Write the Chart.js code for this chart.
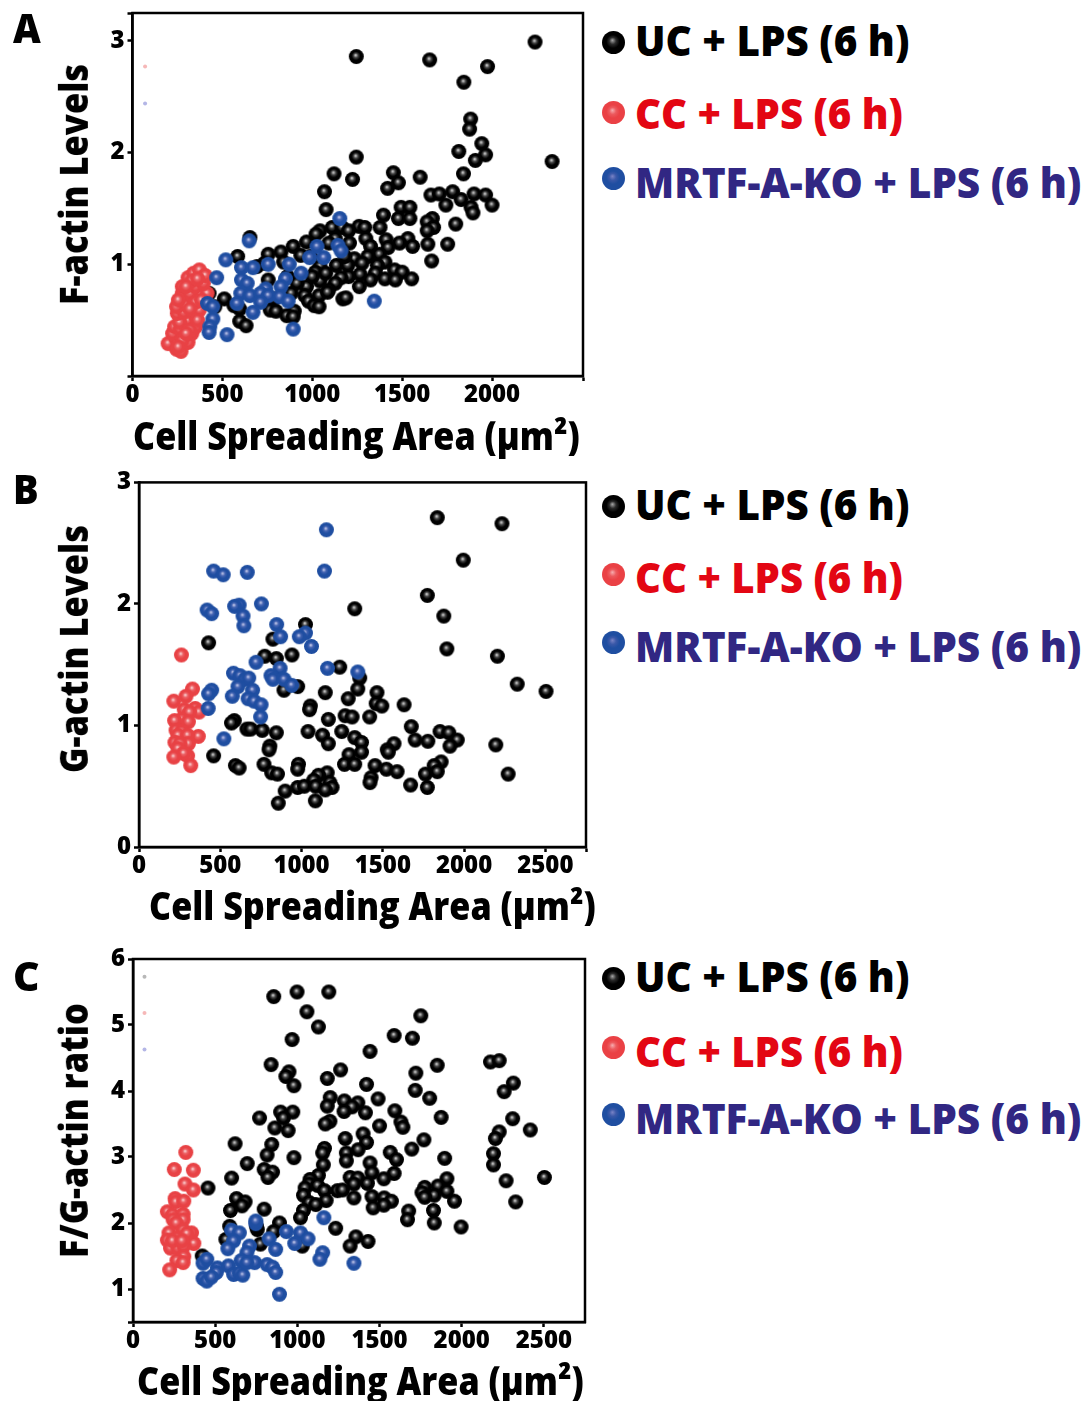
<!DOCTYPE html>
<html>
<head>
<meta charset="utf-8">
<title>Cell spreading area vs actin levels</title>
<style>
  html, body { margin: 0; padding: 0; background: #fff; }
  body { position: relative; width: 1085px; height: 1401px; overflow: hidden; }
  canvas { position: absolute; }
  .t {
    position: absolute; white-space: nowrap; line-height: 0;
    font-family: "Open Sans", sans-serif; font-weight: 800;
    transform-origin: 0 0;
  }
</style>
</head>
<body>
<script src="https://cdn.jsdelivr.net/npm/chart.js@4"></script>
<script>
// [area, level]
const aUC = [[2239,2.99],[1245,2.86],[1653,2.83],[1975,2.77],[1843,2.63],[1881,2.30],[1875,2.21],[1943,2.08],[1815,2.01],[1964,1.98],[1245,1.96],[1907,1.93],[2334,1.92],[1121,1.81],[1451,1.82],[1841,1.81],[1600,1.78],[1224,1.76],[1479,1.73],[1419,1.68],[1068,1.65],[1660,1.62],[1707,1.63],[1781,1.65],[1900,1.63],[1964,1.62],[1828,1.58],[2000,1.53],[1743,1.53],[1883,1.51],[1894,1.46],[1494,1.51],[1543,1.51],[1077,1.49],[1396,1.44],[1479,1.41],[1543,1.41],[1668,1.41],[1639,1.38],[1798,1.36],[1675,1.33],[1639,1.30],[1111,1.33],[1166,1.33],[1260,1.34],[1292,1.33],[1377,1.33],[1043,1.30],[1021,1.27],[1202,1.30],[653,1.24],[1298,1.23],[1411,1.22],[1532,1.23],[1128,1.23],[1092,1.19],[1207,1.19],[1485,1.19],[1643,1.18],[1753,1.18],[1558,1.16],[1324,1.16],[1422,1.15],[894,1.16],[968,1.20],[826,1.11],[755,1.09],[936,1.08],[585,1.07],[990,1.07],[1373,1.09],[1309,1.07],[1234,1.05],[1664,1.03],[1404,1.02],[1134,0.99],[1198,0.99],[1277,1.01],[1362,0.99],[734,1.01],[841,1.02],[1043,0.98],[1017,0.93],[1266,0.91],[1351,0.92],[1458,0.95],[1500,0.93],[1404,0.87],[1462,0.86],[1553,0.87],[1324,0.86],[1202,0.89],[1160,0.88],[1043,0.85],[1128,0.83],[968,0.80],[1092,0.77],[1262,0.80],[915,0.83],[755,0.86],[1038,0.72],[958,0.72],[979,0.67],[1170,0.69],[1187,0.70],[1011,0.63],[1038,0.62],[511,0.69],[564,0.63],[596,0.60],[766,0.59],[798,0.58],[900,0.58],[858,0.54],[894,0.53],[596,0.49],[632,0.45],[426,0.74],[458,0.62],[787,0.69],[883,0.74],[1000,0.89],[1075,0.92],[1085,0.75],[862,0.89],[692,0.98],[1181,1.07]];
const aCC = [[198,0.29],[245,0.24],[270,0.22],[245,0.33],[309,0.30],[223,0.38],[287,0.36],[330,0.38],[234,0.44],[266,0.42],[309,0.50],[351,0.44],[262,0.48],[351,0.53],[249,0.56],[287,0.57],[245,0.62],[302,0.63],[372,0.59],[340,0.69],[277,0.74],[277,0.80],[319,0.74],[351,0.80],[415,0.74],[394,0.83],[309,0.88],[340,0.92],[372,0.95],[404,0.90],[330,0.85],[298,0.80],[351,0.66],[255,0.68],[319,0.41],[319,0.60],[277,0.32],[362,0.50],[298,0.38],[383,0.68],[362,0.87],[255,0.26]];
const aKO = [[1153,1.41],[649,1.21],[1026,1.16],[1143,1.17],[1160,1.12],[985,1.06],[1064,1.06],[519,1.04],[755,1.00],[872,1.00],[670,0.97],[606,0.97],[938,0.92],[468,0.88],[851,0.87],[606,0.86],[638,0.83],[826,0.80],[741,0.78],[602,0.74],[653,0.72],[713,0.74],[755,0.72],[819,0.71],[866,0.67],[1345,0.67],[713,0.66],[581,0.65],[417,0.65],[447,0.62],[670,0.57],[447,0.51],[430,0.44],[894,0.42],[426,0.39],[526,0.37]];

const bUC = [[1835,2.71],[2233,2.66],[1995,2.36],[1774,2.07],[1327,1.96],[1875,1.90],[1024,1.83],[428,1.68],[824,1.71],[1894,1.63],[941,1.58],[774,1.57],[845,1.55],[2205,1.57],[1235,1.48],[2327,1.34],[1358,1.39],[1346,1.30],[976,1.32],[892,1.29],[2504,1.28],[1146,1.27],[1464,1.27],[1287,1.22],[1459,1.18],[1494,1.16],[1631,1.17],[1054,1.16],[1049,1.13],[1268,1.08],[1311,1.07],[1419,1.07],[1165,1.05],[586,1.04],[569,1.02],[1675,0.99],[1852,0.95],[1906,0.94],[664,0.97],[687,0.97],[758,0.96],[845,0.94],[1040,0.95],[1247,0.95],[1129,0.92],[1165,0.85],[1327,0.90],[1369,0.86],[1699,0.88],[1777,0.87],[1958,0.88],[1569,0.85],[1527,0.80],[1534,0.78],[805,0.83],[800,0.80],[1913,0.83],[2195,0.84],[1369,0.78],[1292,0.76],[459,0.75],[1859,0.70],[1816,0.67],[981,0.68],[769,0.68],[593,0.67],[616,0.65],[1264,0.68],[1327,0.68],[1452,0.67],[1522,0.64],[1588,0.62],[976,0.64],[816,0.61],[852,0.60],[1835,0.62],[1762,0.60],[2271,0.60],[1158,0.61],[1104,0.59],[1428,0.57],[1075,0.55],[1421,0.53],[1174,0.53],[976,0.49],[1017,0.50],[1087,0.50],[1188,0.49],[1146,0.47],[1671,0.51],[1774,0.49],[899,0.46],[1085,0.38],[857,0.36]];
const bCC = [[261,1.58],[329,1.30],[289,1.24],[214,1.20],[278,1.13],[346,1.14],[369,1.11],[311,1.11],[263,1.05],[219,1.04],[304,1.03],[228,0.96],[263,0.95],[240,0.92],[365,0.91],[299,0.92],[221,0.86],[304,0.85],[252,0.85],[240,0.81],[299,0.75],[275,0.77],[214,0.74],[318,0.67]];
const bKO = [[1153,2.61],[1141,2.27],[459,2.27],[518,2.24],[666,2.26],[753,2.00],[616,1.99],[588,1.98],[419,1.95],[447,1.92],[640,1.90],[645,1.82],[847,1.83],[871,1.73],[1024,1.76],[986,1.73],[1061,1.65],[720,1.52],[868,1.47],[1160,1.47],[1346,1.44],[812,1.41],[581,1.43],[621,1.41],[652,1.38],[675,1.39],[824,1.38],[892,1.38],[939,1.33],[609,1.32],[699,1.29],[447,1.29],[428,1.26],[574,1.24],[671,1.22],[708,1.20],[751,1.17],[426,1.14],[748,1.07],[522,0.89]];

const cUC = [[856,5.43],[998,5.50],[1191,5.50],[1058,5.20],[1128,4.97],[1751,5.14],[968,4.78],[1589,4.84],[1700,4.80],[1442,4.60],[840,4.40],[1851,4.39],[1263,4.32],[949,4.29],[930,4.22],[1182,4.19],[1721,4.27],[2175,4.44],[2228,4.46],[1421,4.10],[979,4.08],[2314,4.12],[2258,3.99],[1717,4.01],[1200,3.90],[1491,3.88],[1805,3.89],[1182,3.77],[1286,3.85],[1368,3.82],[1333,3.76],[1284,3.69],[1414,3.67],[1593,3.70],[898,3.68],[972,3.68],[770,3.59],[916,3.59],[1875,3.60],[2310,3.58],[1198,3.54],[1170,3.50],[1630,3.53],[1642,3.45],[863,3.44],[944,3.40],[1500,3.47],[2417,3.41],[2228,3.38],[2205,3.28],[1400,3.35],[1421,3.22],[1291,3.28],[1770,3.26],[844,3.19],[621,3.20],[1165,3.13],[1154,3.06],[1370,3.11],[1696,3.12],[1565,3.07],[1298,3.06],[1298,2.94],[816,3.03],[2193,3.05],[979,2.99],[1603,2.96],[1896,2.98],[695,2.90],[1442,2.91],[1158,2.88],[2193,2.88],[798,2.81],[849,2.77],[821,2.69],[1454,2.76],[1589,2.75],[1128,2.72],[1077,2.66],[1321,2.69],[1368,2.68],[1526,2.67],[1910,2.67],[2503,2.69],[600,2.68],[2270,2.64],[1072,2.59],[1344,2.59],[1426,2.60],[1123,2.57],[1047,2.53],[456,2.53],[1775,2.54],[1856,2.56],[1244,2.49],[1275,2.50],[1165,2.49],[1910,2.48],[1037,2.42],[1758,2.46],[1833,2.42],[1454,2.40],[1528,2.38],[1775,2.39],[1344,2.38],[630,2.37],[682,2.32],[663,2.26],[1175,2.34],[1572,2.33],[1956,2.33],[2328,2.32],[1072,2.31],[1112,2.28],[1526,2.27],[1461,2.23],[798,2.21],[593,2.19],[1037,2.19],[1828,2.19],[1677,2.18],[1019,2.08],[1670,2.05],[1833,2.00],[891,2.00],[1996,1.94],[1233,1.92],[588,1.95],[756,1.90],[856,1.87],[1356,1.79],[1430,1.72],[1321,1.65],[565,1.75],[775,1.68],[1030,1.65],[421,1.50],[751,1.95]];
const cCC = [[321,3.07],[251,2.81],[367,2.80],[316,2.59],[367,2.50],[256,2.37],[260,2.32],[309,2.33],[209,2.17],[240,2.12],[305,2.13],[244,2.05],[305,2.05],[263,2.00],[219,1.85],[305,1.89],[356,1.85],[209,1.74],[267,1.77],[333,1.78],[370,1.69],[228,1.62],[274,1.62],[309,1.65],[309,1.49],[267,1.43],[305,1.40],[223,1.29],[328,1.84],[240,1.73],[298,1.73]];
const cKO = [[747,1.99],[747,2.03],[1161,2.08],[600,1.89],[647,1.85],[612,1.73],[577,1.61],[933,1.87],[1019,1.85],[1065,1.76],[828,1.76],[984,1.69],[868,1.60],[709,1.65],[693,1.55],[1154,1.55],[1137,1.45],[1344,1.39],[658,1.43],[740,1.40],[581,1.35],[816,1.37],[849,1.33],[868,1.25],[891,0.92],[426,1.39],[449,1.45],[514,1.32],[507,1.25],[426,1.16],[449,1.12],[477,1.18],[612,1.22],[647,1.24],[668,1.21],[693,1.40]];

// the tiny faded dots near the left axis
const aStray = [[70,2.77,'#f6b8b8'],[70,2.44,'#b4b6e6']];
const bStray = [];
const cStray = [[70,5.73,'#b8b8b8'],[70,5.18,'#f6b8b8'],[70,4.63,'#b4b6e6']];

// tick positions; the last x tick of A and B sits on the frame and has no label
const aXTicks = [0, 500, 1000, 1500, 2000, 2506];
const bXTicks = [0, 500, 1000, 1500, 2000, 2500, 2750];
const cXTicks = [0, 500, 1000, 1500, 2000, 2500];
const aYTicks = [0, 1, 2, 3, 3.25];
const bYTicks = [0, 1, 2, 3];
const cYTicks = [0.5, 1, 2, 3, 4, 5, 6];

const legendNames = ['UC + LPS (6 h)', 'CC + LPS (6 h)', 'MRTF-A-KO + LPS (6 h)'];
const legendInk   = ['#000000', '#e30613', '#312783'];

function makeBall(r, edge, mid, shine) {
  const c = document.createElement('canvas');
  c.width = c.height = Math.ceil(r * 2) + 2;
  const g = c.getContext('2d');
  const m = c.width / 2;
  const grad = g.createRadialGradient(m - r * 0.1, m - r * 0.2, 0, m, m, r);
  grad.addColorStop(0, shine);
  grad.addColorStop(0.3, mid);
  grad.addColorStop(0.58, edge);
  grad.addColorStop(1, edge);
  g.fillStyle = grad;
  g.beginPath();
  g.arc(m, m, r, 0, Math.PI * 2);
  g.fill();
  return c;
}

const balls = {
  uc: makeBall(7.5, '#000000', '#444444', '#e4e4e4'),
  cc: makeBall(7.5, '#e84245', '#ec6266', '#fde2e2'),
  ko: makeBall(7.5, '#1f4ea1', '#4464b2', '#d2d4f0')
};

const boxPlugin = {
  id: 'box',
  afterDraw(chart) {
    const a = chart.chartArea, ctx = chart.ctx;
    ctx.save();
    ctx.strokeStyle = '#000';
    ctx.lineWidth = 2.5;
    ctx.strokeRect(a.left, a.top, a.right - a.left, a.bottom - a.top);
    ctx.restore();
  }
};

function toPoints(rows) { return rows.map(r => ({ x: r[0], y: r[1] })); }
function asTicks(values) { return values.map(v => ({ value: v })); }

function makePanel(p) {
  const cv = document.createElement('canvas');
  cv.width = 600;
  cv.height = p.height;
  cv.style.left = '0px';
  cv.style.top = p.top + 'px';
  document.body.appendChild(cv);

  const tickFont = { family: '"Open Sans", sans-serif', weight: '800', size: 24 };
  const tickCommon = { color: '#000', font: tickFont, autoSkip: false, maxRotation: 0 };
  const gridCommon = { drawOnChartArea: false, color: '#000', tickLength: 5, tickWidth: 2.5 };

  const strays = p.stray.map(s => ({
    data: [{ x: s[0], y: s[1] }], pointStyle: 'circle', pointRadius: 2,
    backgroundColor: s[2], borderWidth: 0, order: 0
  }));

  return new Chart(cv.getContext('2d'), {
    type: 'scatter',
    data: {
      datasets: [
        { label: legendNames[2], data: toPoints(p.ko), pointStyle: balls.ko, pointRadius: 7.5, order: 1 },
        { label: legendNames[1], data: toPoints(p.cc), pointStyle: balls.cc, pointRadius: 7.5, order: 2 },
        { label: legendNames[0], data: toPoints(p.uc), pointStyle: balls.uc, pointRadius: 7.5, order: 3 }
      ].concat(strays)
    },
    options: {
      responsive: false,
      animation: false,
      layout: { padding: { top: p.padTop, right: 600 - p.right, left: 0, bottom: 0 } },
      plugins: { legend: { display: false }, tooltip: { enabled: false } },
      scales: {
        x: {
          type: 'linear',
          min: p.xTicks[0],
          max: p.xMax,
          border: { color: '#000', width: 2.5 },
          grid: gridCommon,
          afterFit: s => { s.height = p.height - p.bottom; },
          afterBuildTicks: s => { s.ticks = asTicks(p.xTicks); },
          ticks: Object.assign({}, tickCommon, {
            padding: 0,
            callback: v => (v % 500 === 0 && v !== p.hideX ? v : '')
          })
        },
        y: {
          type: 'linear',
          min: p.yTicks[0],
          max: p.yTicks[p.yTicks.length - 1],
          border: { color: '#000', width: 2.5 },
          grid: gridCommon,
          afterFit: s => { s.width = p.left; },
          afterBuildTicks: s => { s.ticks = asTicks(p.yTicks); },
          ticks: Object.assign({}, tickCommon, {
            padding: 3,
            callback: v => (Number.isInteger(v) && v !== p.hideY ? v : '')
          })
        }
      }
    },
    plugins: [boxPlugin]
  });
}

makePanel({ top: -20, height: 440, padTop: 33, left: 132.5, right: 583, bottom: 396, xMax: 2506, xTicks: aXTicks, yTicks: aYTicks, hideY: 0,
  uc: aUC, cc: aCC, ko: aKO, stray: aStray });
makePanel({ top: 465, height: 420, padTop: 17, left: 139,   right: 586, bottom: 382, xMax: 2750, xTicks: bXTicks, yTicks: bYTicks,
  uc: bUC, cc: bCC, ko: bKO, stray: bStray });
makePanel({ top: 940, height: 420, padTop: 19, left: 133,   right: 585, bottom: 382, xMax: 2750, xTicks: cXTicks, yTicks: cYTicks,
  uc: cUC, cc: cCC, ko: cKO, stray: cStray });

// text placed by hand: width is squeezed to what the figure's condensed face takes
function addText(str, x, base, size, color, width, vertical) {
  const el = document.createElement('div');
  el.className = 't';
  el.textContent = str;
  el.style.fontSize = size + 'px';
  el.style.color = color;
  el.style.left = '0px';
  el.style.top = '0px';
  document.body.appendChild(el);
  const k = width ? width / el.offsetWidth : 1;
  // line-height 0 puts the baseline about 0.388em below the box top
  const drop = size * 0.388;
  if (vertical) {
    el.style.transform = `translate(${x - drop}px, ${base}px) rotate(-90deg) scaleX(${k})`;
  } else {
    el.style.transform = `translate(${x}px, ${base - drop}px) scaleX(${k})`;
  }
}

const areaTitle = 'Cell Spreading Area (µm²)';
addText('A', 13, 43, 41, '#000', 28);
addText('B', 13, 504, 41, '#000', 26);
addText('C', 13, 991, 41, '#000', 27);

addText('F-actin Levels', 88, 305, 39, '#000', 241, true);
addText('G-actin Levels', 88, 773, 39, '#000', 248, true);
addText('F/G-actin ratio', 88, 1258, 39, '#000', 255, true);

addText(areaTitle, 133, 450, 39, '#000', 447);
addText(areaTitle, 149, 920, 39, '#000', 447);
addText(areaTitle, 137, 1395, 39, '#000', 447);

const legendWidths = [274, 268, 446];
[[56, 129, 198], [520, 593, 662], [992, 1067, 1134]].forEach(rows => {
  rows.forEach((base, i) => addText(legendNames[i], 635, base, 42, legendInk[i], legendWidths[i]));
});

const bigBalls = [
  makeBall(11.5, '#000000', '#2a2a2a', '#a8a8a8'),
  makeBall(11.5, '#ea4145', '#ec5a5e', '#f7aeb0'),
  makeBall(11.5, '#1f4ea1', '#3a58a8', '#7a84c6')
];
[[42, 112, 178], [506, 574, 642], [978, 1047, 1114]].forEach(rows => {
  rows.forEach((cy, i) => {
    const c = document.createElement('canvas');
    c.width = bigBalls[i].width;
    c.height = bigBalls[i].height;
    c.getContext('2d').drawImage(bigBalls[i], 0, 0);
    c.style.left = (613 - c.width / 2) + 'px';
    c.style.top = (cy - c.height / 2) + 'px';
    document.body.appendChild(c);
  });
});
</script>
</body>
</html>
